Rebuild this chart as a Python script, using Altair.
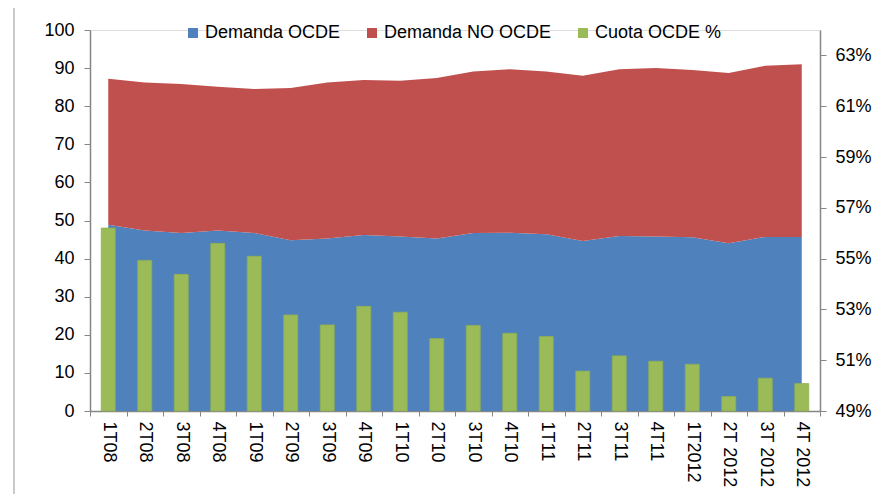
import altair as alt
import pandas as pd

quarters = ["1T08", "2T08", "3T08", "4T08", "1T09", "2T09", "3T09", "4T09",
            "1T10", "2T10", "3T10", "4T10", "1T11", "2T11", "3T11", "4T11",
            "1T2012", "2T 2012", "3T 2012", "4T 2012"]
demanda_ocde = [48.9, 47.4, 46.7, 47.4, 46.7, 44.8, 45.3, 46.2, 45.8, 45.3,
                46.7, 46.8, 46.4, 44.6, 45.9, 45.8, 45.6, 44.0, 45.7, 45.7]
demanda_no_ocde = [38.3, 38.8, 39.1, 37.7, 37.8, 40.0, 40.9, 40.7, 40.9, 42.1,
                   42.4, 42.9, 42.7, 43.4, 43.8, 44.2, 43.9, 44.7, 44.9, 45.3]
cuota_ocde = [56.2, 54.93, 54.38, 55.6, 55.09, 52.78, 52.39, 53.12, 52.89, 51.85,
              52.37, 52.06, 51.93, 50.57, 51.17, 50.96, 50.84, 49.57, 50.29, 50.08]

series_names = ["Demanda OCDE", "Demanda NO OCDE", "Cuota OCDE %"]
series_colors = ["#4F81BD", "#C0504D", "#9BBB59"]

rows = []
for i, q in enumerate(quarters):
    rows.append({"q": q, "serie": series_names[0], "ord": 0, "v": demanda_ocde[i]})
    rows.append({"q": q, "serie": series_names[1], "ord": 1, "v": demanda_no_ocde[i]})
area_df = pd.DataFrame(rows)
bar_df = pd.DataFrame({"q": quarters, "pct": cuota_ocde})

FONT = "Liberation Sans"
FS = 18
AXC = "#868686"

xenc = alt.X("q:N", sort=quarters, title=None,
             scale=alt.Scale(paddingInner=0, paddingOuter=0),
             axis=alt.Axis(labelAngle=90, labelFontSize=FS, labelColor="#000",
                           tickBand="extent", tickSize=5, tickColor=AXC,
                           domainColor=AXC, domainWidth=1.5, labelPadding=5))

color_scale = alt.Scale(domain=series_names, range=series_colors)
legend = alt.Legend(title=None, orient="none", direction="horizontal",
                    legendX=94, legendY=-6, symbolType="square", symbolSize=100,
                    symbolStrokeWidth=0, labelFontSize=FS, labelColor="#000",
                    labelOffset=3, columnPadding=22, labelFont=FONT,
                    labelLimit=400)

area = alt.Chart(area_df).mark_area(interpolate="linear", opacity=1).encode(
    x=xenc,
    y=alt.Y("v:Q", stack="zero", title=None,
            scale=alt.Scale(domain=[0, 100], nice=False),
            axis=alt.Axis(values=list(range(0, 101, 10)), labelFontSize=FS,
                          labelColor="#000", tickSize=6, tickColor=AXC,
                          domainColor=AXC, domainWidth=1.5, labelPadding=10,
                          grid=False)),
    color=alt.Color("serie:N", scale=color_scale, legend=legend),
    order=alt.Order("ord:Q"),
)

bars = alt.Chart(bar_df).mark_bar(size=14, stroke="#8FAE52", strokeWidth=0.8).encode(
    x=alt.X("q:N", sort=quarters),
    y=alt.Y("pct:Q", title=None,
            scale=alt.Scale(domain=[49, 64], nice=False, zero=False),
            axis=alt.Axis(orient="right", values=list(range(49, 64, 2)),
                          labelExpr="datum.value + '%'", labelFontSize=FS,
                          labelColor="#000", tickSize=6, tickColor=AXC,
                          domainColor=AXC, domainWidth=1.5, labelPadding=9,
                          grid=False)),
    y2=alt.datum(49),
    color=alt.datum("Cuota OCDE %"),
)

one = pd.DataFrame({"a": [0]})
frame_left = alt.Chart(one).mark_rule(color="#A6A6A6", strokeWidth=1.2).encode(
    x=alt.value(-76), y=alt.value(-26), y2=alt.value(480))
frame_top = alt.Chart(one).mark_rule(color="#A6A6A6", strokeWidth=1.2).encode(
    x=alt.value(-76), x2=alt.value(800), y=alt.value(-26))

chart = alt.layer(area, bars, frame_left, frame_top).resolve_scale(
    y="independent"
).properties(
    width=730, height=381,
    autosize=alt.AutoSizeParams(type="none"),
    padding={"left": 82, "top": 22, "right": 56, "bottom": 83},
    background="white",
).configure_view(stroke=None).configure(font=FONT)

chart.save("out.html", embed_options={"renderer": "svg", "actions": False})
